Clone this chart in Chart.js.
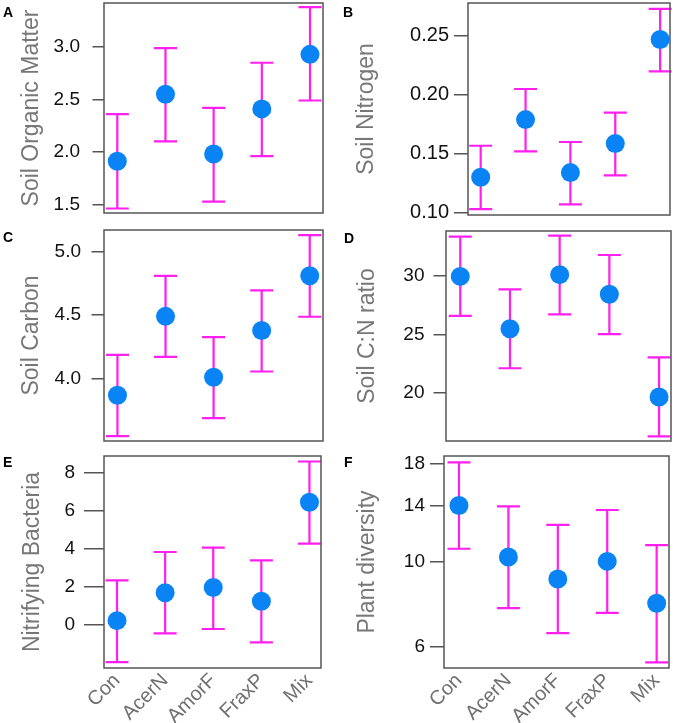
<!DOCTYPE html>
<html><head><meta charset="utf-8">
<script src="https://cdn.jsdelivr.net/npm/chart.js@4.4.1/dist/chart.umd.min.js"></script>
<style>
html,body{margin:0;padding:0;background:#fff;}
#wrap{position:relative;width:675px;height:723px;overflow:hidden;background:#fff;}
.pc{position:absolute;}
.lbl{position:absolute;font:bold 14px "Liberation Sans",Arial,sans-serif;line-height:14px;color:#000;}
</style></head><body>
<div id="wrap">
  <div class="pc" style="left:0;top:0;width:337px;height:222px"><canvas id="cA" width="337" height="222"></canvas></div>
  <div class="pc" style="left:337px;top:0;width:338px;height:222px"><canvas id="cB" width="338" height="222"></canvas></div>
  <div class="pc" style="left:0;top:222px;width:337px;height:228px"><canvas id="cC" width="337" height="228"></canvas></div>
  <div class="pc" style="left:337px;top:222px;width:338px;height:228px"><canvas id="cD" width="338" height="228"></canvas></div>
  <div class="pc" style="left:0;top:450px;width:337px;height:273px"><canvas id="cE" width="337" height="273"></canvas></div>
  <div class="pc" style="left:337px;top:450px;width:338px;height:273px"><canvas id="cF" width="338" height="273"></canvas></div>
  <div class="lbl" style="left:3px;top:5px">A</div>
  <div class="lbl" style="left:343px;top:5px">B</div>
  <div class="lbl" style="left:3px;top:230px">C</div>
  <div class="lbl" style="left:344px;top:231px">D</div>
  <div class="lbl" style="left:3px;top:455px">E</div>
  <div class="lbl" style="left:344px;top:455px">F</div>
</div>
<script>
// ---- data ----
const categories = ['Con', 'AcerN', 'AmorF', 'FraxP', 'Mix'];

const somMean = [1.91, 2.55, 1.98, 2.41, 2.93];
const somLow  = [1.46, 2.10, 1.525, 1.96, 2.49];
const somHigh = [2.36, 2.99, 2.42, 2.85, 3.38];
const somTicks = [1.5, 2.0, 2.5, 3.0];
const somTickLabels = ['1.5', '2.0', '2.5', '3.0'];

const nMean = [0.130, 0.179, 0.134, 0.1587, 0.247];
const nLow  = [0.103, 0.152, 0.107, 0.1316, 0.220];
const nHigh = [0.1568, 0.205, 0.160, 0.185, 0.273];
const nTicks = [0.10, 0.15, 0.20, 0.25];
const nTickLabels = ['0.10', '0.15', '0.20', '0.25'];

const cMean = [3.868, 4.49, 4.01, 4.379, 4.81];
const cLow  = [3.545, 4.17, 3.687, 4.055, 4.487];
const cHigh = [4.186, 4.81, 4.326, 4.695, 5.13];
const cTicks = [4.0, 4.5, 5.0];
const cTickLabels = ['4.0', '4.5', '5.0'];

const cnMean = [29.97, 25.49, 30.12, 28.44, 19.66];
const cnLow  = [26.6, 22.12, 26.73, 25.03, 16.3];
const cnHigh = [33.37, 28.86, 33.45, 31.8, 23.05];
const cnTicks = [20, 25, 30];
const cnTickLabels = ['20', '25', '30'];

const nbMean = [0.21, 1.68, 1.95, 1.23, 6.44];
const nbLow  = [-1.97, -0.46, -0.23, -0.93, 4.26];
const nbHigh = [2.33, 3.82, 4.05, 3.38, 8.58];
const nbTicks = [0, 2, 4, 6, 8];
const nbTickLabels = ['0', '2', '4', '6', '8'];

const pdMean = [14.0, 10.27, 9.0, 10.0, 7.78];
const pdLow  = [10.79, 7.55, 6.50, 7.34, 5.45];
const pdHigh = [18.14, 13.92, 12.45, 13.62, 11.03];
const pdTicks = [6, 10, 14, 18];
const pdTickLabels = ['6', '10', '14', '18'];

// ---- styles ----
const DOT = '#0A84F5';
const BAR = '#FF1FEF';
const FRAME = '#555555';
const FONT = '"Liberation Sans", Arial, Helvetica, sans-serif';

function makePanel(p) {
  const plug = {
    id: 'errAndBox' + p.id,
    beforeDatasetsDraw(chart) {
      const {ctx, scales: {x, y}} = chart;
      ctx.save();
      ctx.strokeStyle = BAR;
      ctx.lineWidth = 2.2;
      ctx.lineCap = 'butt';
      p.low.forEach((lo, i) => {
        const px = x.getPixelForValue(i + 1);
        const y1 = y.getPixelForValue(lo);
        const y2 = y.getPixelForValue(p.high[i]);
        const w = 11.5;
        ctx.beginPath();
        ctx.moveTo(px, y1); ctx.lineTo(px, y2);
        ctx.moveTo(px - w, y1); ctx.lineTo(px + w, y1);
        ctx.moveTo(px - w, y2); ctx.lineTo(px + w, y2);
        ctx.stroke();
      });
      ctx.restore();
    },
    afterDraw(chart) {
      const {ctx, chartArea: a} = chart;
      ctx.save();
      ctx.strokeStyle = FRAME;
      ctx.lineWidth = 1.5;
      ctx.strokeRect(a.left, a.top, a.right - a.left, a.bottom - a.top);
      ctx.restore();
    }
  };
  new Chart(document.getElementById(p.id), {
    type: 'scatter',
    data: {
      datasets: [{
        data: p.mean.map((v, i) => ({x: i + 1, y: v})),
        pointRadius: 9.5,
        pointHoverRadius: 9.5,
        pointBackgroundColor: DOT,
        pointBorderWidth: 0,
        showLine: false,
        clip: false
      }]
    },
    options: {
      responsive: false,
      animation: false,
      devicePixelRatio: 1,
      events: [],
      layout: {padding: p.pad, autoPadding: false},
      plugins: {legend: {display: false}, tooltip: {enabled: false}},
      scales: {
        x: {
          type: 'linear',
          min: p.xmin, max: p.xmax,
          display: p.bottom,
          afterBuildTicks: s => { s.ticks = categories.map((c, i) => ({value: i + 1})); },
          afterFit: s => {
            if (p.bottom) s.height = p.xh;
            s.paddingLeft = 0; s.paddingRight = 0; s.paddingTop = 0; s.paddingBottom = 0;
          },
          ticks: {
            callback: (v, i) => categories[i],
            autoSkip: false,
            minRotation: 45, maxRotation: 45,
            padding: 1,
            color: '#6f6f6f',
            font: {family: FONT, size: 20}
          },
          grid: {display: false, drawTicks: false},
          border: {display: false}
        },
        y: {
          type: p.log ? 'logarithmic' : 'linear',
          min: p.ymin, max: p.ymax,
          afterBuildTicks: s => { s.ticks = p.ticks.map(v => ({value: v})); },
          afterFit: s => {
            s.width = p.yw;
            s.paddingLeft = 0; s.paddingRight = 0; s.paddingTop = 0; s.paddingBottom = 0;
          },
          ticks: {
            callback: (v, i) => p.tickLabels[i],
            padding: p.tpad,
            color: '#111',
            font: {family: FONT, size: p.tsize}
          },
          grid: {drawOnChartArea: false, drawTicks: true, tickLength: p.tl, color: FRAME, lineWidth: 1.5},
          border: {display: false},
          title: {
            display: true,
            text: p.title,
            color: '#777',
            font: {family: FONT, size: 23},
            padding: {top: p.titlePad, bottom: 0}
          }
        }
      }
    },
    plugins: [plug]
  });
}

makePanel({id: 'cA', title: 'Soil Organic Matter', mean: somMean, low: somLow, high: somHigh,
  ticks: somTicks, tickLabels: somTickLabels, ymin: 1.417, ymax: 3.42, xmin: 0.724, xmax: 5.27,
  yw: 104, tl: 11.5, tpad: 12.5, tsize: 19, titlePad: 18, pad: {left: 0, right: 14, top: 3, bottom: 9}, bottom: false});
makePanel({id: 'cB', title: 'Soil Nitrogen', mean: nMean, low: nLow, high: nHigh,
  ticks: nTicks, tickLabels: nTickLabels, ymin: 0.098, ymax: 0.278, xmin: 0.717, xmax: 5.22,
  yw: 131, tl: 14, tpad: 5, tsize: 20, titlePad: 16, pad: {left: 0, right: 5, top: 3, bottom: 7}, bottom: false});
makePanel({id: 'cC', title: 'Soil Carbon', mean: cMean, low: cLow, high: cHigh,
  ticks: cTicks, tickLabels: cTickLabels, ymin: 3.507, ymax: 5.171, xmin: 0.72, xmax: 5.276,
  yw: 104, tl: 12.5, tpad: 10.5, tsize: 19, titlePad: 18, pad: {left: 0, right: 14, top: 8, bottom: 9}, bottom: false});
makePanel({id: 'cD', title: 'Soil C:N ratio', mean: cnMean, low: cnLow, high: cnHigh,
  ticks: cnTicks, tickLabels: cnTickLabels, ymin: 15.9, ymax: 33.85, xmin: 0.713, xmax: 5.24,
  yw: 109, tl: 12.5, tpad: 9, tsize: 19, titlePad: 17, pad: {left: 0, right: 4, top: 9, bottom: 9}, bottom: false});
makePanel({id: 'cE', title: 'Nitrifying Bacteria', mean: nbMean, low: nbLow, high: nbHigh,
  ticks: nbTicks, tickLabels: nbTickLabels, ymin: -2.28, ymax: 8.87, xmin: 0.729, xmax: 5.24,
  yw: 104, tl: 20, tpad: 9, tsize: 19, titlePad: 19, xh: 55, pad: {left: 0, right: 16, top: 6, bottom: 0}, bottom: true});
makePanel({id: 'cF', title: 'Plant diversity', mean: pdMean, low: pdLow, high: pdHigh,
  ticks: pdTicks, tickLabels: pdTickLabels, ymin: 5.27, ymax: 18.84, xmin: 0.697, xmax: 5.25, log: true,
  yw: 107, tl: 14, tpad: 5, tsize: 19, titlePad: 17, xh: 55, pad: {left: 0, right: 6, top: 6, bottom: 0}, bottom: true});
</script>
</body></html>
